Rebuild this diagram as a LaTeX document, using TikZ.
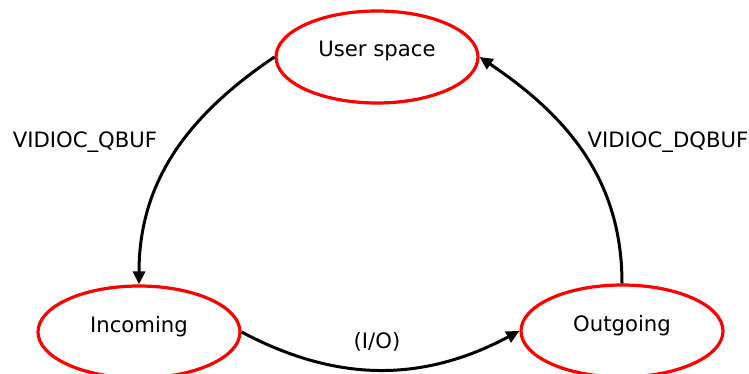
\documentclass[tikz,border=0pt]{standalone}
\usepackage{fontspec}
\setmainfont{DejaVu Sans}
\usetikzlibrary{shapes.geometric,arrows.meta}

\begin{document}
\begin{tikzpicture}[x=0.5pt, y=-0.5pt, font=\fontsize{10.6}{12}\selectfont]
\tikzstyle{queue} = [ellipse, draw = red, line width = 1.6pt, minimum width = 101pt, minimum height = 46pt, text height = 8pt, text depth = 8pt]
\tikzstyle{flow} = [line width = 1.5pt, -{Triangle[length=6.5pt,width=6pt]}]
\useasboundingbox (0,0) rectangle (749,374);

\node [queue] (user) at (377,57) {User space};
\node [queue] (inc) at (139,332) {Incoming};
\node [queue] (outq) at (622,331) {Outgoing};

\draw [flow] (user.west) to [out = 214, in = 90] (inc.north);
\draw [flow] (inc.east) to [out = -28, in = 208] (outq.west);
\draw [flow] (outq.north) to [out = 90, in = -34] (user.east);

\node [anchor = base] (qbuf) at (85,148) {VIDIOC\_QBUF};
\node [anchor = base] (dqbuf) at (668,148) {VIDIOC\_DQBUF};
\node [anchor = base] (io) at (377,348) {(I/O)};
\end{tikzpicture}
\end{document}
